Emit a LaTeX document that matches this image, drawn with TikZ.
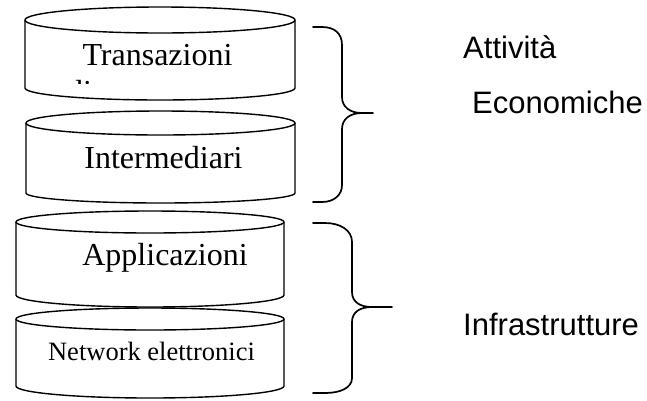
\documentclass[tikz,border=0pt]{standalone}
\usepackage{fontspec}
\setmainfont{Liberation Serif}
\newfontfamily\arialfont{Liberation Sans}
\tikzset{
  canline/.style={line width=1.4pt, line join=round},
  braceline/.style={line width=1.7pt, line join=round, line cap=round},
  serifbig/.style={inner sep=0pt, anchor=base, font=\fontsize{32}{38}\selectfont},
  serifsmall/.style={inner sep=0pt, anchor=base, font=\fontsize{26.5}{32}\selectfont},
  sanslabel/.style={inner sep=0pt, anchor=base west, font=\arialfont\fontsize{31}{37}\selectfont},
}
% #1 left x, #2 right x, #3 cap centre y, #4 cap y-radius, #5 bottom centre y, #6 bottom y-radius
\newcommand\drawcan[6]{%
  \pgfmathsetmacro\canrx{(#2-#1)/2}%
  \pgfmathsetmacro\cancx{(#2+#1)/2}%
  \draw[canline,fill=white] (#1,#3) -- (#1,#5) arc[start angle=180,end angle=360,x radius=\canrx pt,y radius=#6pt] -- (#2,#3);
  \draw[canline,fill=white] (\cancx,#3) ellipse[x radius=\canrx pt,y radius=#4pt];
}
\begin{document}
\begin{tikzpicture}[x=1pt,y=-1pt]
\useasboundingbox (0,0) rectangle (647,400);
\fill[white] (0,0) rectangle (647,400);

% cylinders
\drawcan{25}{295}{20}{13}{88}{12}
\drawcan{26}{295}{123}{12}{193}{10}
\drawcan{16}{284}{222}{11}{295}{12}
\drawcan{16}{284}{319}{11}{386}{12}

% cylinder texts
\node[serifbig] (t1) at (157.5,65) {Transazioni};
\begin{scope}
  \clip (60,70) rectangle (130,83);
  \node[serifbig, anchor=base west] (t1b) at (67,102) {di};
\end{scope}
\node[serifbig] (t2) at (163.5,168) {Intermediari};
\node[serifbig] (t3) at (165,265) {Applicazioni};
\node[serifsmall] (t4) at (151.5,360) {Network elettronici};

% braces
\draw[braceline] (313,27) -- (322,27) .. controls (334,27) and (342,33) .. (342,45) -- (342,97)
  .. controls (342,107) and (350,113) .. (362,113) -- (373,113);
\draw[braceline] (362,113) .. controls (350,113) and (342,119) .. (342,129) -- (342,185)
  .. controls (342,195) and (334,202) .. (322,202) -- (313,202);

\draw[braceline] (313,223) -- (325,223) .. controls (340,223) and (352,230) .. (352,242) -- (352,292)
  .. controls (352,302) and (360,307) .. (372,307) -- (392,307);
\draw[braceline] (372,307) .. controls (360,307) and (352,312) .. (352,322) -- (352,378)
  .. controls (352,388) and (340,393) .. (325,393) -- (313,393);

% labels
\node[sanslabel] (l1) at (463,58) {Attività};
\node[sanslabel] (l2) at (472,113) {Economiche};
\node[sanslabel] (l3) at (463,335) {Infrastrutture};
\end{tikzpicture}
\end{document}
